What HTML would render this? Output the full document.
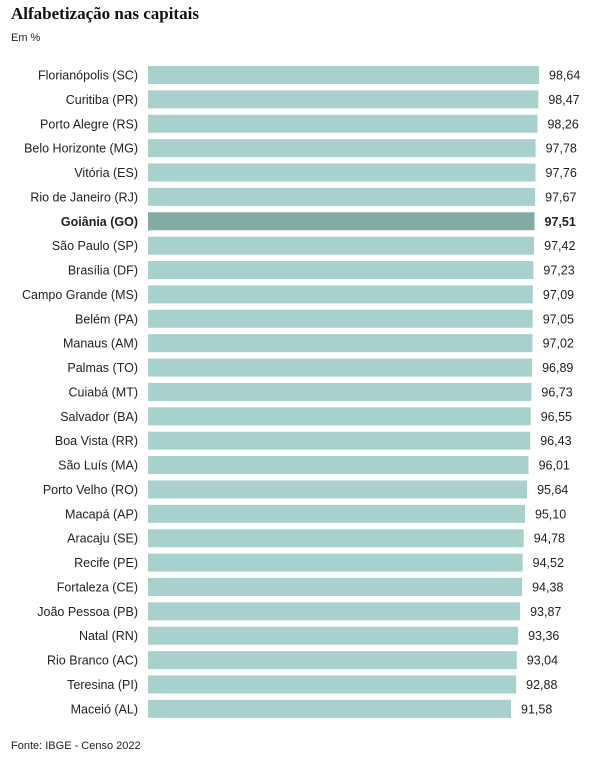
<!DOCTYPE html>
<html><head><meta charset="utf-8"><style>
body{margin:0;background:#fff;width:602px;height:760px;overflow:hidden;font-family:"Liberation Sans",sans-serif;color:#222}
h1{position:absolute;left:11px;top:4px;margin:0;font:bold 17px "Liberation Serif",serif;color:#111}
.sub{position:absolute;left:11px;top:32px;font-size:11px}
.src{position:absolute;left:11px;top:740px;font-size:11px}
</style></head><body>
<h1>Alfabetização nas capitais</h1>
<div class="sub">Em %</div>
<svg id="c" width="602" height="760" style="position:absolute;left:0;top:0"></svg>
<div class="src">Fonte: IBGE - Censo 2022</div>
<script>
const categories=["Florianópolis (SC)","Curitiba (PR)","Porto Alegre (RS)","Belo Horizonte (MG)","Vitória (ES)","Rio de Janeiro (RJ)","Goiânia (GO)","São Paulo (SP)","Brasília (DF)","Campo Grande (MS)","Belém (PA)","Manaus (AM)","Palmas (TO)","Cuiabá (MT)","Salvador (BA)","Boa Vista (RR)","São Luís (MA)","Porto Velho (RO)","Macapá (AP)","Aracaju (SE)","Recife (PE)","Fortaleza (CE)","João Pessoa (PB)","Natal (RN)","Rio Branco (AC)","Teresina (PI)","Maceió (AL)"];
const values=[98.64,98.47,98.26,97.78,97.76,97.67,97.51,97.42,97.23,97.09,97.05,97.02,96.89,96.73,96.55,96.43,96.01,95.64,95.10,94.78,94.52,94.38,93.87,93.36,93.04,92.88,91.58];
const highlight="Goiânia (GO)";
const svg=document.getElementById('c');const NS="http://www.w3.org/2000/svg";
const x0=148,scale=391/98.64,y0=66,step=24.38,bh=18;
const x=v=>v*scale;
categories.forEach((c,i)=>{
 const y=y0+i*step,hl=c===highlight;
 const r=document.createElementNS(NS,'rect');
 
 
 r.setAttribute('x',x0);r.setAttribute('y',y);r.setAttribute('width',x(values[i]));r.setAttribute('height',bh);
 r.setAttribute('fill',hl?'#82aba6':'#a8d1cd');svg.appendChild(r);
 const t=document.createElementNS(NS,'text');
 
 
 t.setAttribute('x',138);t.setAttribute('y',y+bh/2+4.5);t.setAttribute('text-anchor','end');
 t.setAttribute('font-size','12.5');t.setAttribute('fill','#222');if(hl)t.setAttribute('font-weight','bold');
 t.textContent=c;svg.appendChild(t);
 const v=document.createElementNS(NS,'text');
 
 
 v.setAttribute('x',x0+x(values[i])+10);v.setAttribute('y',y+bh/2+4.5);
 v.setAttribute('font-size','12.5');v.setAttribute('fill','#222');if(hl)v.setAttribute('font-weight','bold');
 v.textContent=values[i].toFixed(2).replace('.',',');svg.appendChild(v);
});
</script>
</body></html>
